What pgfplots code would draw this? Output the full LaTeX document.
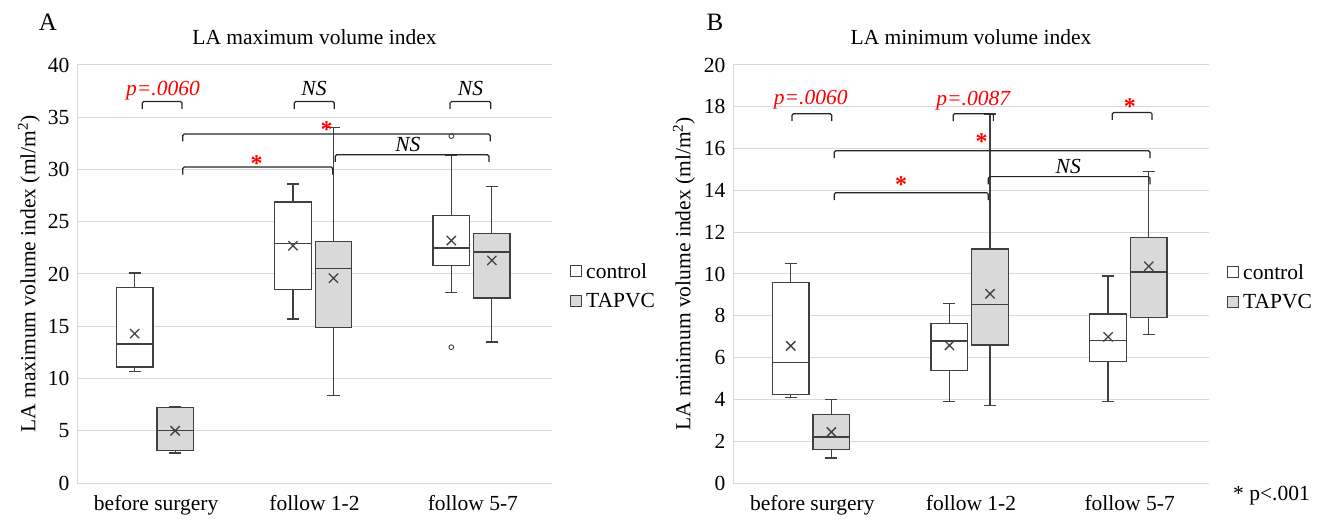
\documentclass[border=0pt]{standalone}
\usepackage{pgfplots}
\pgfplotsset{compat=1.18}
\usepgfplotslibrary{statistics}
\usepackage{fontspec}
\setmainfont{Liberation Serif}
\definecolor{boxgray}{HTML}{D9D9D9}
\definecolor{edge}{HTML}{404040}
\definecolor{gridc}{HTML}{D9D9D9}
\newcommand\fs{\fontsize{21.5}{25}\selectfont}
\tikzset{br/.style={draw=black!85, line width=1.2pt, rounded corners=1.5pt}}
\pgfplotsset{
  bx/.style={boxplot prepared={#1, box extend=0.231, whisker extend=0.076, draw direction=y},
    draw=edge, line width=1.3pt, solid, mark=o, mark size=2.4pt,
    mark options={draw=edge, line width=0.9pt, fill=white}},
  ctl/.style={bx={#1}, fill=white},
  tap/.style={bx={#1}, fill=boxgray},
  boxplot/every average/.style={/tikz/mark=x, /tikz/mark size=6.5pt, /tikz/draw=black!85, /tikz/line width=1pt, /tikz/solid},
  ax/.style={
    scale only axis, width=475pt, height=418pt, anchor=south west,
    xmin=0, xmax=3, xtick={0.5,1.5,2.5},
    xticklabels={before surgery, follow 1-2, follow 5-7},
    major tick length=0pt,
    axis x line*=bottom, axis y line*=left,
    axis line style={draw=gridc, line width=1pt},
    ymajorgrids, major grid style={draw=gridc, line width=1pt},
    tick label style={font=\fs},
    /pgf/number format/assume math mode=true,
    yticklabel style={xshift=-4pt},
    xticklabel style={yshift=-9pt},
    clip=false,
  },
}
\begin{document}
\begin{tikzpicture}
\path[use as bounding box] (0,0) rectangle (1326pt,520pt);
% ---------------- Panel A ----------------
\begin{axis}[ax, at={(77pt,37pt)}, ymin=0, ymax=40, ytick={0,5,...,40}]
\addplot[ctl={draw position=0.364, lower whisker=10.7, lower quartile=11.1, median=13.3, upper quartile=18.7, upper whisker=20.1, average=14.3}] coordinates {};
\addplot[tap={draw position=0.620, lower whisker=2.87, lower quartile=3.1, median=5.0, upper quartile=7.2, upper whisker=7.3, average=5.0}] coordinates {};
\addplot[ctl={draw position=1.364, lower whisker=15.7, lower quartile=18.5, median=22.9, upper quartile=26.9, upper whisker=28.6, average=22.7}] coordinates {};
\addplot[tap={draw position=1.620, lower whisker=8.4, lower quartile=14.85, median=20.55, upper quartile=23.1, upper whisker=34.0, average=19.6}] coordinates {};
\addplot[ctl={draw position=2.364, lower whisker=18.2, lower quartile=20.8, median=22.5, upper quartile=25.6, upper whisker=31.4, average=23.2}] table[row sep=\\, y index=0] {33.2\\ 13.0\\};
\addplot[tap={draw position=2.620, lower whisker=13.5, lower quartile=17.7, median=22.1, upper quartile=23.9, upper whisker=28.4, average=21.3}] coordinates {};
% brackets
\draw[br] (axis cs:0.412,35.8) |- (axis cs:0.663,36.5) -- (axis cs:0.663,35.8);
\draw[br] (axis cs:1.372,35.8) |- (axis cs:1.625,36.5) -- (axis cs:1.625,35.8);
\draw[br] (axis cs:2.356,35.8) |- (axis cs:2.613,36.5) -- (axis cs:2.613,35.8);
\draw[br] (axis cs:0.668,32.7) |- (axis cs:2.610,33.4) -- (axis cs:2.610,32.7);
\draw[br] (axis cs:0.668,29.5) |- (axis cs:1.615,30.24) -- (axis cs:1.615,29.5);
\draw[br] (axis cs:1.631,30.72) |- (axis cs:2.602,31.42) -- (axis cs:2.602,30.72);
\node[anchor=base, font=\fs\itshape, text=red] at (axis cs:0.543,37.06) {p=.0060};
\node[anchor=base, font=\fs\itshape] at (axis cs:1.497,37.06) {NS};
\node[anchor=base, font=\fs\itshape] at (axis cs:2.485,37.06) {NS};
\node[anchor=base, font=\fs\itshape] at (axis cs:2.09,31.73) {NS};
\node[anchor=base, font=\fontsize{24}{28}\selectfont\bfseries, text=red] at (axis cs:1.577,33.07) {*};
\node[anchor=base, font=\fontsize{24}{28}\selectfont\bfseries, text=red] at (axis cs:1.135,29.8) {*};
\end{axis}
% ---------------- Panel B ----------------
\begin{axis}[ax, at={(733pt,37pt)}, width=476pt, ymin=0, ymax=20, ytick={0,2,...,20}]
\addplot[ctl={draw position=0.364, lower whisker=4.09, lower quartile=4.22, median=5.78, upper quartile=9.6, upper whisker=10.5, average=6.56}] coordinates {};
\addplot[tap={draw position=0.620, lower whisker=1.19, lower quartile=1.59, median=2.2, upper quartile=3.28, upper whisker=4.0, average=2.44}] coordinates {};
\addplot[ctl={draw position=1.364, lower whisker=3.9, lower quartile=5.38, median=6.8, upper quartile=7.63, upper whisker=8.6, average=6.58}] coordinates {};
\addplot[tap={draw position=1.620, lower whisker=3.7, lower quartile=6.6, median=8.54, upper quartile=11.2, upper whisker=17.65, average=9.05}] coordinates {};
\addplot[ctl={draw position=2.364, lower whisker=3.9, lower quartile=5.81, median=6.83, upper quartile=8.08, upper whisker=9.9, average=6.99}] coordinates {};
\addplot[tap={draw position=2.620, lower whisker=7.1, lower quartile=7.92, median=10.1, upper quartile=11.76, upper whisker=14.9, average=10.37}] coordinates {};
% brackets
\draw[br] (axis cs:0.372,17.32) |- (axis cs:0.622,17.67) -- (axis cs:0.622,17.32);
\draw[br] (axis cs:1.388,17.32) |- (axis cs:1.641,17.67) -- (axis cs:1.641,17.32);
\draw[br] (axis cs:2.390,17.37) |- (axis cs:2.641,17.73) -- (axis cs:2.641,17.37);
\draw[br] (axis cs:0.638,15.54) |- (axis cs:2.628,15.9) -- (axis cs:2.628,15.54);
\draw[br] (axis cs:0.638,13.54) |- (axis cs:1.609,13.89) -- (axis cs:1.609,13.54);
\draw[br] (axis cs:1.609,14.29) |- (axis cs:2.628,14.66) -- (axis cs:2.628,14.29);
\node[anchor=base, font=\fs\itshape, text=red] at (axis cs:0.49,18.13) {p=.0060};
\node[anchor=base, font=\fs\itshape, text=red] at (axis cs:1.514,18.04) {p=.0087};
\node[anchor=base, font=\fs\itshape] at (axis cs:2.113,14.82) {NS};
\node[anchor=base, font=\fontsize{24}{28}\selectfont\bfseries, text=red] at (axis cs:2.502,17.64) {*};
\node[anchor=base, font=\fontsize{24}{28}\selectfont\bfseries, text=red] at (axis cs:1.567,15.97) {*};
\node[anchor=base, font=\fontsize{24}{28}\selectfont\bfseries, text=red] at (axis cs:1.059,13.89) {*};
\end{axis}
% ---------------- titles, labels, legends ----------------
\node[font=\fontsize{25}{30}\selectfont] at (48pt,498pt) {A};
\node[font=\fontsize{25}{30}\selectfont] at (715pt,498pt) {B};
\node[font=\fs] at (314.5pt,483pt) {LA maximum volume index};
\node[font=\fs] at (971pt,483pt) {LA minimum volume index};
\node[font=\fs, rotate=90] at (29pt,246pt) {LA maximum volume index (ml/m\textsuperscript{2})};
\node[font=\fs, rotate=90] at (684pt,246pt) {LA minimum volume index (ml/m\textsuperscript{2})};
% legend A
\draw[edge, line width=0.8pt, fill=white] (570.7pt,243.5pt) rectangle (581.7pt,254.5pt);
\draw[edge, line width=0.8pt, fill=boxgray] (570.7pt,213.5pt) rectangle (581.7pt,224.5pt);
\node[font=\fs, anchor=west, inner sep=0pt] at (586pt,249pt) {control};
\node[font=\fs, anchor=west, inner sep=0pt] at (586pt,219pt) {TAPVC};
% legend B
\draw[edge, line width=0.8pt, fill=white] (1227.7pt,242.5pt) rectangle (1238.7pt,253.5pt);
\draw[edge, line width=0.8pt, fill=boxgray] (1227.7pt,212.5pt) rectangle (1238.7pt,223.5pt);
\node[font=\fs, anchor=west, inner sep=0pt] at (1243pt,248pt) {control};
\node[font=\fs, anchor=west, inner sep=0pt] at (1243pt,218pt) {TAPVC};
\node[font=\fs, anchor=west, inner sep=0pt] at (1233pt,24pt) {* p<.001};
\end{tikzpicture}
\end{document}
